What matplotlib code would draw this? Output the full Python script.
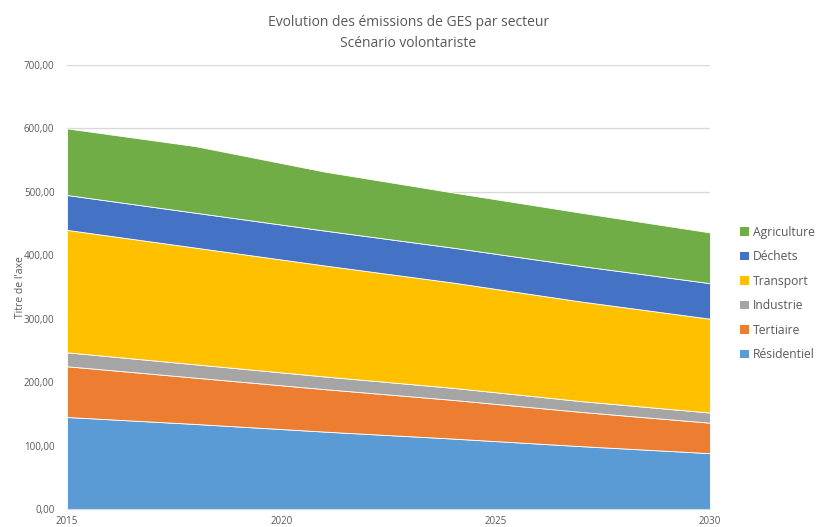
import matplotlib
matplotlib.use("Agg")
import matplotlib.pyplot as plt
from matplotlib.ticker import FuncFormatter, MultipleLocator
from matplotlib.patches import Patch

years = [2015, 2018, 2021, 2024, 2027, 2030]
residentiel = [145, 134, 122, 111, 99, 88]
tertiaire = [80, 73, 67, 61, 54, 48]
industrie = [22, 21, 20, 19, 17, 16]
transport = [193, 184, 175, 166, 157, 148]
dechets = [55, 55, 55, 55, 56, 56]
agriculture = [105, 105, 93, 87, 84, 80]

series_names = ["Résidentiel", "Tertiaire", "Industrie", "Transport", "Déchets", "Agriculture"]
colors = ["#5B9BD5", "#ED7D31", "#A5A5A5", "#FFC000", "#4472C4", "#70AD47"]
xticks = [2015, 2020, 2025, 2030]

plt.rcParams['font.family'] = ['Open Sans', 'DejaVu Sans']

fig = plt.figure(figsize=(8.17, 5.27), dpi=100)
ax = fig.add_axes([0.082, 0.0342, 0.787, 0.8425])

ax.stackplot(years, residentiel, tertiaire, industrie, transport, dechets, agriculture,
             colors=colors, edgecolor="white", linewidth=0.6, zorder=2)

ax.set_xlim(2015, 2030)
ax.set_ylim(0, 700)
ax.yaxis.set_major_locator(MultipleLocator(100))
ax.yaxis.set_major_formatter(FuncFormatter(lambda v, p: f"{v:.2f}".replace(".", ",")))
ax.set_xticks(xticks)
ax.set_xticklabels([str(x) for x in xticks])
ax.grid(axis="y", color="#D9D9D9", linewidth=1.0, zorder=0)
ax.set_axisbelow(True)
for s in ["top", "right", "left"]:
    ax.spines[s].set_visible(False)
ax.spines["bottom"].set_color("#D9D9D9")
ax.tick_params(axis="both", length=0, colors="#595959", labelsize=7)
ax.tick_params(axis="y", pad=9)
ax.tick_params(axis="x", pad=5)

ax.set_ylabel("Titre de l'axe", fontsize=7.5, color="#595959")
ax.yaxis.set_label_coords(-0.064, 0.5)

fig.text(0.5, 0.958, "Evolution des émissions de GES par secteur", ha="center", va="center",
         fontsize=10, color="#595959")
fig.text(0.5, 0.918, "Scénario volontariste", ha="center", va="center",
         fontsize=10, color="#595959")

handles = [Patch(facecolor=c, label=n) for n, c in zip(series_names, colors)][::-1]
fig.legend(handles=handles, loc="center left", bbox_to_anchor=(0.893, 0.443),
           frameon=False, fontsize=8.7, labelcolor="#595959", handlelength=0.7,
           handleheight=0.7, handletextpad=0.3, labelspacing=0.95)

fig.savefig("out.png", dpi=100)
